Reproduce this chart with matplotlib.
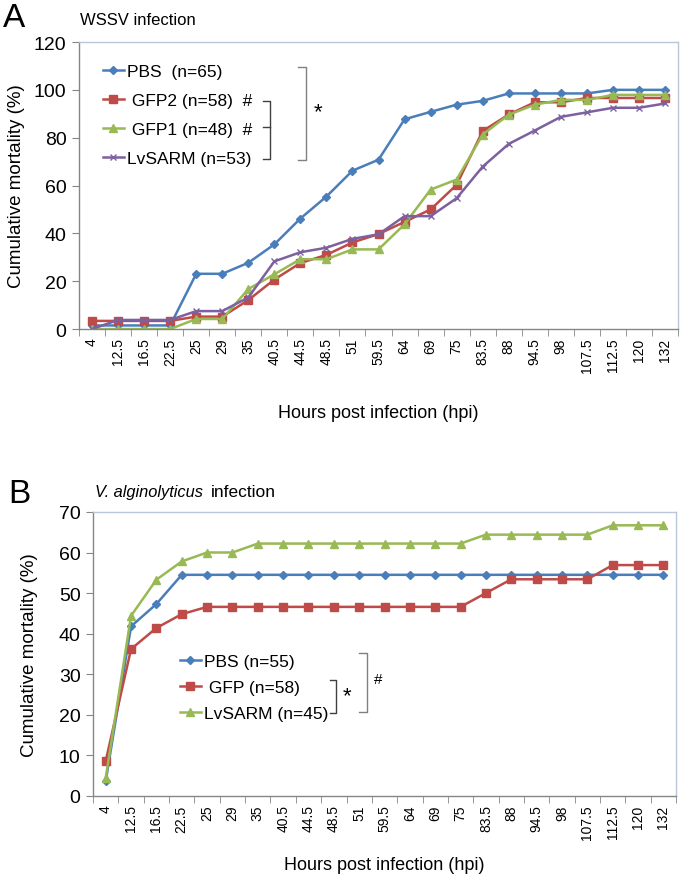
import matplotlib
matplotlib.use("Agg")
import matplotlib.pyplot as plt
import numpy as np

plt.rcParams['font.family'] = ['Liberation Sans', 'DejaVu Sans']

hpi = ["4", "12.5", "16.5", "22.5", "25", "29", "35", "40.5", "44.5", "48.5", "51",
       "59.5", "64", "69", "75", "83.5", "88", "94.5", "98", "107.5", "112.5", "120", "132"]

# panel A - WSSV
wssv_pbs = [1.5, 1.5, 1.5, 1.5, 23.1, 23.1, 27.7, 35.4, 46.2, 55.4, 66.2, 70.8, 87.7, 90.8,
            93.8, 95.4, 98.5, 98.5, 98.5, 98.5, 100, 100, 100]
wssv_gfp2 = [3.4, 3.4, 3.4, 3.4, 5.2, 5.2, 12.1, 20.7, 27.6, 31.0, 36.2, 39.7, 44.8, 50.0,
             60.3, 82.8, 89.7, 94.8, 94.8, 96.6, 96.6, 96.6, 96.6]
wssv_gfp1 = [0, 0, 0, 0, 4.2, 4.2, 16.7, 22.9, 29.2, 29.2, 33.3, 33.3, 43.8, 58.3,
             62.5, 81.3, 89.6, 93.8, 95.8, 95.8, 97.9, 97.9, 97.9]
wssv_sarm = [0, 3.8, 3.8, 3.8, 7.5, 7.5, 13.2, 28.3, 32.1, 34.0, 37.7, 39.6, 47.2, 47.2,
             54.7, 67.9, 77.4, 83.0, 88.7, 90.6, 92.5, 92.5, 94.3]

# panel B - V. alginolyticus
vib_pbs = [3.6, 41.8, 47.3, 54.5, 54.5, 54.5, 54.5, 54.5, 54.5, 54.5, 54.5, 54.5, 54.5, 54.5,
           54.5, 54.5, 54.5, 54.5, 54.5, 54.5, 54.5, 54.5, 54.5]
vib_gfp = [8.6, 36.2, 41.4, 44.8, 46.6, 46.6, 46.6, 46.6, 46.6, 46.6, 46.6, 46.6, 46.6, 46.6,
           46.6, 50.0, 53.4, 53.4, 53.4, 53.4, 56.9, 56.9, 56.9]
vib_sarm = [4.4, 44.4, 53.3, 57.8, 60.0, 60.0, 62.2, 62.2, 62.2, 62.2, 62.2, 62.2, 62.2, 62.2,
            62.2, 64.4, 64.4, 64.4, 64.4, 64.4, 66.7, 66.7, 66.7]

BLUE = "#4A7EBB"
RED = "#BE4B48"
GREEN = "#98B954"
PURPLE = "#7D60A0"


def style_axes(ax, ymax, ystep):
    n = len(hpi)
    ax.set_xlim(-0.5, n - 0.5)
    ax.set_ylim(0, ymax)
    ax.set_yticks(np.arange(0, ymax + 1, ystep))
    ax.set_xticks(np.arange(n))
    ax.set_xticklabels(hpi, rotation=90, fontsize=10, va="top", ha="center")
    ax.set_xticks(np.arange(n + 1) - 0.5, minor=True)
    ax.tick_params(axis="x", which="major", length=0, pad=6)
    ax.tick_params(axis="x", which="minor", length=5, color="#868686", direction="out")
    ax.tick_params(axis="y", length=5, color="#868686", labelsize=14, pad=4)
    for s in ["left", "bottom"]:
        ax.spines[s].set_color("#868686")
        ax.spines[s].set_linewidth(1.0)
    for s in ["top", "right"]:
        ax.spines[s].set_color("#B9C7D9")
        ax.spines[s].set_linewidth(1.0)


def bracket(ax, x, y0, y1, w, color, mid=None):
    xs = [x - w, x, x, x - w]
    ys = [y1, y1, y0, y0]
    ax.plot(xs, ys, color=color, lw=1.0, transform=ax.transAxes, clip_on=False)
    if mid is not None:
        ax.plot([x - w, x], [mid, mid], color=color, lw=1.0, transform=ax.transAxes, clip_on=False)


fig = plt.figure(figsize=(6.83, 8.78), dpi=100)

# ---- panel A ----
axA = fig.add_axes([0.1157, 0.6241, 0.877, 0.3269])
x = np.arange(len(hpi))
axA.plot(x, wssv_pbs, color=BLUE, lw=1.8, marker="D", ms=4, label="PBS  (n=65)")
axA.plot(x, wssv_gfp2, color=RED, lw=1.8, marker="s", ms=6, label=" GFP2 (n=58)  #")
axA.plot(x, wssv_gfp1, color=GREEN, lw=1.8, marker="^", ms=6, label=" GFP1 (n=48)  #")
axA.plot(x, wssv_sarm, color=PURPLE, lw=1.8, marker="x", ms=5, mew=1, label="LvSARM (n=53)")
style_axes(axA, 120, 20)
axA.set_ylabel("Cumulative mortality (%)", fontsize=13.5)
axA.yaxis.set_label_coords(-0.09, 0.5)
axA.set_xlabel("Hours post infection (hpi)", fontsize=13)
axA.xaxis.set_label_coords(0.5, -0.262)
axA.legend(loc="center left", bbox_to_anchor=(0.04, 0.747), frameon=False, fontsize=12.5,
           borderpad=0, borderaxespad=0, handlelength=1.2, handletextpad=0.2,
           labelspacing=0.8, markerscale=0.9)
bracket(axA, 0.379, 0.589, 0.913, 0.0134, "#808080")
bracket(axA, 0.319, 0.592, 0.794, 0.0117, "#404040", mid=0.704)
axA.text(0.399, 0.756, "*", transform=axA.transAxes, fontsize=16, ha="center", va="center")

fig.text(0.005, 0.979, "A", fontsize=24, va="center", ha="left")
fig.text(0.117, 0.977, "WSSV infection", fontsize=12, va="center", ha="left")

# ---- panel B ----
axB = fig.add_axes([0.1362, 0.0923, 0.8536, 0.3235])
axB.plot(x, vib_pbs, color=BLUE, lw=1.8, marker="D", ms=4, label="PBS (n=55)")
axB.plot(x, vib_gfp, color=RED, lw=1.8, marker="s", ms=6, label=" GFP (n=58)")
axB.plot(x, vib_sarm, color=GREEN, lw=1.8, marker="^", ms=6, label="LvSARM (n=45)")
style_axes(axB, 70, 10)
axB.set_ylabel("Cumulative mortality (%)", fontsize=13.5)
axB.yaxis.set_label_coords(-0.095, 0.5)
axB.set_xlabel("Hours post infection (hpi)", fontsize=13)
axB.xaxis.set_label_coords(0.5, -0.212)
axB.legend(loc="center left", bbox_to_anchor=(0.149, 0.382), frameon=False, fontsize=12.5,
           borderpad=0, borderaxespad=0, handlelength=1.2, handletextpad=0.2,
           labelspacing=0.65, markerscale=0.9)
bracket(axB, 0.417, 0.292, 0.408, 0.0103, "#404040")
bracket(axB, 0.470, 0.296, 0.504, 0.0137, "#808080")
axB.text(0.436, 0.352, "*", transform=axB.transAxes, fontsize=16, ha="center", va="center")
axB.text(0.489, 0.412, "#", transform=axB.transAxes, fontsize=11, ha="center", va="center")

fig.text(0.012, 0.437, "B", fontsize=24, va="center", ha="left")
fig.text(0.139, 0.4385, "V. alginolyticus", fontsize=11.8, style="italic", va="center", ha="left")
fig.text(0.309, 0.4385, "infection", fontsize=12.5, va="center", ha="left")

fig.savefig("out.png", dpi=100)
